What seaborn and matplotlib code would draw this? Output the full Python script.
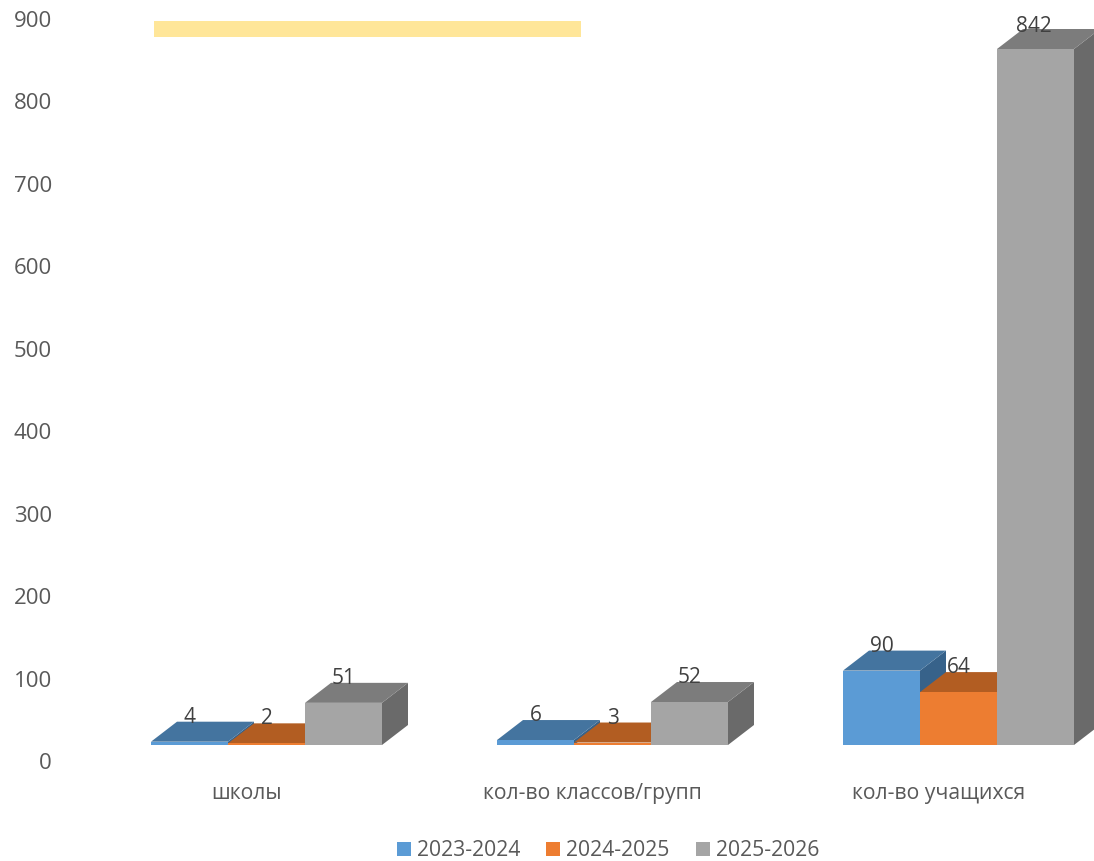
"""
Schools / classes / pupils by school year - bars with a fake 3D look
"""

import matplotlib
matplotlib.use("Agg")
import matplotlib.pyplot as plt
import pandas as pd
import seaborn as sns
from matplotlib.patches import Patch, Polygon, Rectangle

categories = ["школы", "кол-во классов/групп", "кол-во учащихся"]
years = ["2023-2024", "2024-2025", "2025-2026"]
values_2023 = [4, 6, 90]
values_2024 = [2, 3, 64]
values_2025 = [51, 52, 842]
y_ticks = [0, 100, 200, 300, 400, 500, 600, 700, 800, 900]

front_colors = ["#5B9BD5", "#ED7D31", "#A5A5A5"]
top_colors = ["#44749F", "#B25D22", "#7C7C7C"]
side_colors = ["#37628A", "#9A4F1C", "#6A6A6A"]

W, H = 1094, 861
PX_PER_CAT = 346.0
PX_PER_UNIT = 0.8266
DEPTH_X = 26 / PX_PER_CAT
DEPTH_Y = 20 / PX_PER_UNIT
# the 3D floor sits above the zero of the value labels
TICK_STEP = 0.9974
TICK_SHIFT = -19.4
# category labels sit left of the front bars, under the floor
LABEL_SHIFT = -20 / PX_PER_CAT

sns.set_theme(style="white")
plt.rcParams["font.family"] = ["Open Sans", "DejaVu Sans"]

df = pd.DataFrame({
    "category": categories * 3,
    "year": [y for y in years for _ in categories],
    "value": values_2023 + values_2024 + values_2025,
})

fig = plt.figure(figsize=(W / 100, H / 100), dpi=100)
ax = fig.add_axes([60 / W, 1 - 770 / H, 1 - 60 / W, 770 / H])

sns.barplot(
    data=df, x="category", y="value", hue="year", order=categories, hue_order=years,
    palette=front_colors, saturation=1, width=0.6676, gap=0, linewidth=0, ax=ax,
    legend=False,
)

# side and top faces, later series cover the earlier ones
for i, container in enumerate(ax.containers):
    for bar in container:
        x0, x1 = bar.get_x(), bar.get_x() + bar.get_width()
        top = bar.get_height()
        side = Polygon(
            [(x1, 0), (x1 + DEPTH_X, DEPTH_Y), (x1 + DEPTH_X, top + DEPTH_Y), (x1, top)],
            facecolor=side_colors[i], edgecolor="none", zorder=2 + i,
        )
        cap = Polygon(
            [(x0, top), (x1, top), (x1 + DEPTH_X, top + DEPTH_Y), (x0 + DEPTH_X, top + DEPTH_Y)],
            facecolor=top_colors[i], edgecolor="none", zorder=2 + i,
        )
        ax.add_patch(side)
        ax.add_patch(cap)
        bar.set_zorder(2.5 + i)
    labels = ax.bar_label(container, padding=10, fontsize=15, color="#404040")
    for label in labels:
        label.set_zorder(10)

# the tallest label sits a little lower and further left
labels[-1].xyann = (-1.5, 8.5)

ax.set_xlim((60 - 266.5) / PX_PER_CAT, (W - 266.5) / PX_PER_CAT)
ax.set_ylim(-25 / PX_PER_UNIT, 745 / PX_PER_UNIT)

ax.set_xticks([i + LABEL_SHIFT for i in range(len(categories))])
ax.set_xticklabels(categories)
ax.set_yticks([t * TICK_STEP + TICK_SHIFT for t in y_ticks])
ax.set_yticklabels([str(t) for t in y_ticks])
ax.tick_params(axis="y", length=0, pad=5.8, labelsize=16, labelcolor="#595959")
ax.tick_params(axis="x", length=0, pad=9.5, labelsize=15.2, labelcolor="#595959")
ax.set_xlabel("")
ax.set_ylabel("")
sns.despine(ax=ax, left=True, bottom=True)

# stray yellow strip from the original slide
fig.add_artist(Rectangle(
    (154 / W, 1 - 37 / H), 427 / W, 16 / H,
    transform=fig.transFigure, facecolor="#FFE699", edgecolor="none",
))

handles = [Patch(facecolor=c, edgecolor="none", label=y) for c, y in zip(front_colors, years)]
fig.legend(
    handles=handles, loc="center", bbox_to_anchor=(608 / W, 1 - 851 / H), ncol=3,
    frameon=False, fontsize=15.2, labelcolor="#595959", handlelength=0.66, handleheight=0.66,
    handletextpad=0.28, columnspacing=1.25, borderpad=0,
)

plt.savefig("out.png", dpi=100)
